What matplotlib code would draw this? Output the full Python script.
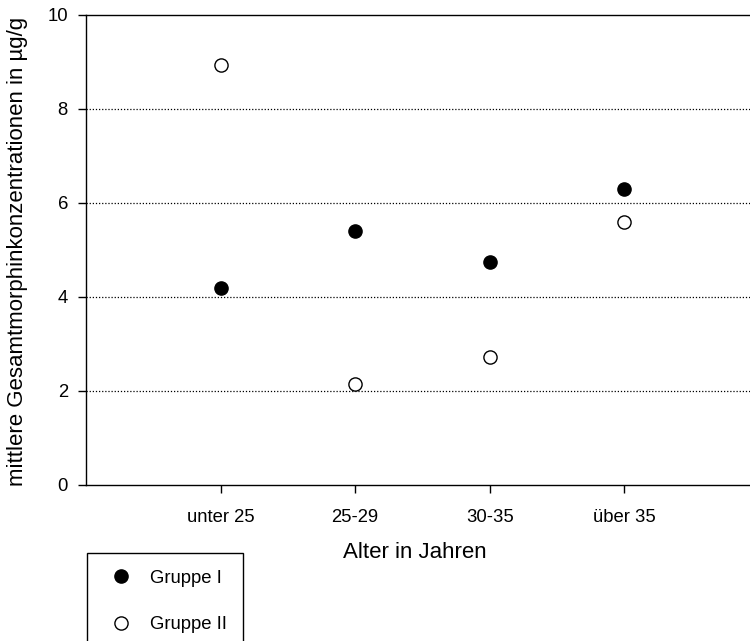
import matplotlib
matplotlib.use("Agg")
import matplotlib.pyplot as plt

plt.rcParams["font.family"] = ["Liberation Sans", "DejaVu Sans"]
plt.rcParams["font.size"] = 13.3

# Daten
altersgruppen = ["unter 25", "25-29", "30-35", "über 35"]
gruppe_1 = [4.19, 5.40, 4.74, 6.30]
gruppe_2 = [8.93, 2.14, 2.72, 5.60]
positionen = [1, 2, 3, 4]

fig = plt.figure(figsize=(7.5, 6.41), dpi=100)
ax = fig.add_axes([0.1147, 0.2434, 0.897, 0.7332])

ax.plot(positionen, gruppe_1, "o", color="black", markersize=9.5,
        linestyle="none", label="Gruppe I")
ax.plot(positionen, gruppe_2, "o", markerfacecolor="white",
        markeredgecolor="black", markeredgewidth=1.0, markersize=9.5,
        linestyle="none", label="Gruppe II")

ax.set_xlim(0, 5)
ax.set_ylim(0, 10)
ax.set_xticks(positionen)
ax.set_xticklabels(altersgruppen)
ax.set_yticks([0, 2, 4, 6, 8, 10])

# gepunktete Hilfslinien
for y in [2, 4, 6, 8]:
    ax.axhline(y, color="black", linestyle=(0, (1, 1.5)), linewidth=0.9, zorder=0)

ax.tick_params(axis="x", direction="out", length=6, width=1, pad=11)
ax.tick_params(axis="y", direction="out", length=6, width=1, pad=7)
for s in ax.spines.values():
    s.set_linewidth(1.0)

fig.text(415 / 750, 1 - 553 / 641, "Alter in Jahren", ha="center",
         va="center", fontsize=16)
fig.text(18 / 750, 1 - 251.5 / 641, "mittlere Gesamtmorphinkonzentrationen in µg/g",
         ha="center", va="center", rotation=90, fontsize=16)

leg = fig.legend(loc="upper left", bbox_to_anchor=(86.7 / 750, 1 - 553 / 641),
                 frameon=True, fancybox=False, framealpha=1, edgecolor="black",
                 borderpad=0.9, labelspacing=1.6, handlelength=1.9,
                 handletextpad=0.6, borderaxespad=0, fontsize=13.3)
leg.get_frame().set_linewidth(1.0)

fig.savefig("out.png", dpi=100)
